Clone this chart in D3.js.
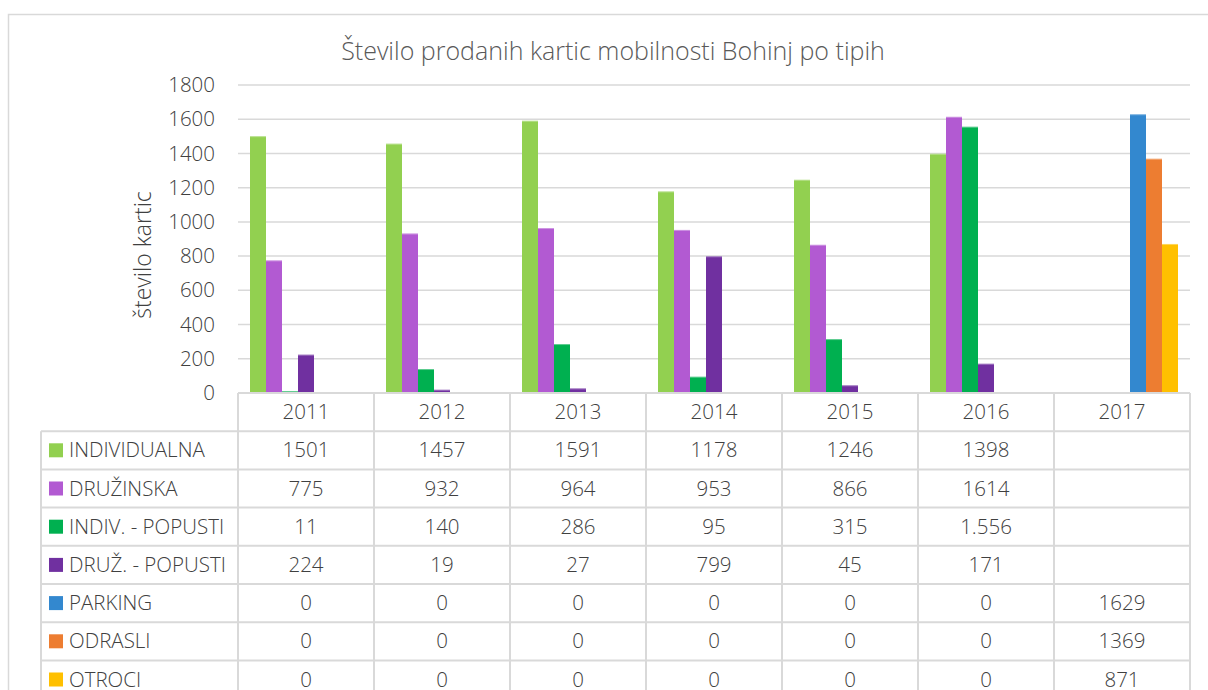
<!DOCTYPE html>
<html>
<head>
<meta charset="utf-8">
<script src="https://d3js.org/d3.v7.min.js"></script>
<style>
  body { margin: 0; background: #fff; }
  svg text { font-family: "Open Sans", "Noto Sans", sans-serif; fill: #404040; font-weight: 300; }
</style>
</head>
<body>
<svg id="chart" width="1208" height="690"></svg>
<script>
// data
var years = ['2011', '2012', '2013', '2014', '2015', '2016', '2017'];
var seriesNames = ['INDIVIDUALNA', 'DRUŽINSKA', 'INDIV. - POPUSTI', 'DRUŽ. - POPUSTI', 'PARKING', 'ODRASLI', 'OTROCI'];
var individualna = [1501, 1457, 1591, 1178, 1246, 1398, null];
var druzinska    = [775, 932, 964, 953, 866, 1614, null];
var indivPopusti = [11, 140, 286, 95, 315, 1556, null];
var druzPopusti  = [224, 19, 27, 799, 45, 171, null];
var parking      = [0, 0, 0, 0, 0, 0, 1629];
var odrasli      = [0, 0, 0, 0, 0, 0, 1369];
var otroci       = [0, 0, 0, 0, 0, 0, 871];
var yTicks = [0, 200, 400, 600, 800, 1000, 1200, 1400, 1600, 1800];
// the one cell the source table shows with a thousands dot
var dottedCells = [{ s: 2, y: '2016' }];

var seriesValues = [individualna, druzinska, indivPopusti, druzPopusti, parking, odrasli, otroci];
var colors = ['#92d050', '#b25ad2', '#00b050', '#7030a0', '#3388cf', '#ed7d31', '#ffc000'];

var svg = d3.select('#chart'),
    plotLeft = 238, plotRight = 1190, plotTop = 85, base = 393,
    rowH = 38.2, tableLeft = 41, fs = '20.5px';

// outer chart frame
svg.append('rect')
    .attr('x', 8.5).attr('y', 14.5)
    .attr('width', 1220).attr('height', 700)
    .attr('fill', 'none').attr('stroke', '#d9d9d9').attr('stroke-width', 1.5);

var x = d3.scaleBand().domain(years).range([plotLeft, plotRight]);
var inner = d3.scaleBand().domain(d3.range(7))
    .range([0, x.bandwidth()]).paddingOuter(0.75).paddingInner(0);
var y = d3.scaleLinear().domain([0, 1800]).range([base, plotTop]);

// gridlines
svg.append('g').selectAll('line')
    .data(yTicks.slice(1))
    .enter().append('line')
    .attr('x1', plotLeft).attr('x2', plotRight)
    .attr('y1', function(d) { return y(d); })
    .attr('y2', function(d) { return y(d); })
    .attr('stroke', '#d9d9d9').attr('stroke-width', 1.5);

// y tick labels
var yAxis = svg.append('g')
    .attr('transform', 'translate(' + plotLeft + ',0)')
    .call(d3.axisLeft(y).tickValues(yTicks).tickFormat(d3.format('d'))
          .tickSize(0).tickPadding(23));
yAxis.select('.domain').remove();
yAxis.selectAll('text')
    .style('font-size', fs).attr('fill', '#404040')
    .style('font-family', '"Open Sans", sans-serif').style('font-weight', 300);

// bars, with the faint lighter rim along the top that the source shows
seriesValues.forEach(function(vals, s) {
    var g = svg.append('g');
    var data = years.map(function(yr, i) { return { yr: yr, v: vals[i] }; })
        .filter(function(d) { return d.v; });
    g.selectAll('rect')
        .data(data)
        .enter().append('rect')
        .attr('x', function(d) { return x(d.yr) + inner(s); })
        .attr('width', inner.bandwidth())
        .attr('y', function(d) { return y(d.v); })
        .attr('height', function(d) { return base - y(d.v); })
        .attr('fill', colors[s]);
    g.selectAll('line')
        .data(data)
        .enter().append('line')
        .attr('x1', function(d) { return x(d.yr) + inner(s); })
        .attr('x2', function(d) { return x(d.yr) + inner(s) + inner.bandwidth(); })
        .attr('y1', function(d) { return y(d.v) + 0.5; })
        .attr('y2', function(d) { return y(d.v) + 0.5; })
        .attr('stroke', '#fff').attr('stroke-opacity', 0.35);
});

// title
svg.append('text')
    .attr('x', 613).attr('y', 60)
    .attr('text-anchor', 'middle')
    .style('font-size', '25px').style('fill', '#595959')
    .text('Število prodanih kartic mobilnosti Bohinj po tipih');

// y axis title
svg.append('text')
    .attr('transform', 'translate(151,255) rotate(-90)')
    .attr('text-anchor', 'middle')
    .style('font-size', '23px')
    .text('število kartic');

// data table
var table = svg.append('g');
var grid = '#d9d9d9';
var nRows = seriesNames.length;

// horizontal lines
d3.range(nRows + 2).forEach(function(r) {
    table.append('line')
        .attr('x1', r === 0 ? plotLeft : tableLeft).attr('x2', plotRight)
        .attr('y1', base + r * rowH).attr('y2', base + r * rowH)
        .attr('stroke', grid).attr('stroke-width', 2);
});
// vertical lines
table.append('line')
    .attr('x1', tableLeft).attr('x2', tableLeft)
    .attr('y1', base + rowH).attr('y2', base + (nRows + 1) * rowH)
    .attr('stroke', grid).attr('stroke-width', 2);
years.concat(['end']).forEach(function(yr, i) {
    var xx = i < years.length ? x(yr) : plotRight;
    table.append('line')
        .attr('x1', xx).attr('x2', xx)
        .attr('y1', base).attr('y2', base + (nRows + 1) * rowH)
        .attr('stroke', grid).attr('stroke-width', 2);
});

// year header
table.selectAll('.yr')
    .data(years).enter().append('text')
    .attr('x', function(d) { return x(d) + x.bandwidth() / 2; })
    .attr('y', base + rowH / 2 + 7)
    .attr('text-anchor', 'middle')
    .style('font-size', fs)
    .text(function(d) { return d; });

// rows
seriesNames.forEach(function(name, s) {
    var cy = base + (s + 1) * rowH + rowH / 2;
    table.append('rect')
        .attr('x', 49).attr('y', cy - 7)
        .attr('width', 14).attr('height', 14)
        .attr('fill', colors[s]);
    table.append('text')
        .attr('x', 69).attr('y', cy + 7)
        .style('font-size', fs)
        .text(name);
    years.forEach(function(yr, i) {
        var v = seriesValues[s][i];
        if (v === null) return;
        var dotted = dottedCells.some(function(c) { return c.s === s && c.y === yr; });
        table.append('text')
            .attr('x', x(yr) + x.bandwidth() / 2)
            .attr('y', cy + 7)
            .attr('text-anchor', 'middle')
            .style('font-size', fs)
            .text(dotted ? d3.format(',')(v).replace(',', '.') : v);
    });
});
</script>
</body>
</html>
